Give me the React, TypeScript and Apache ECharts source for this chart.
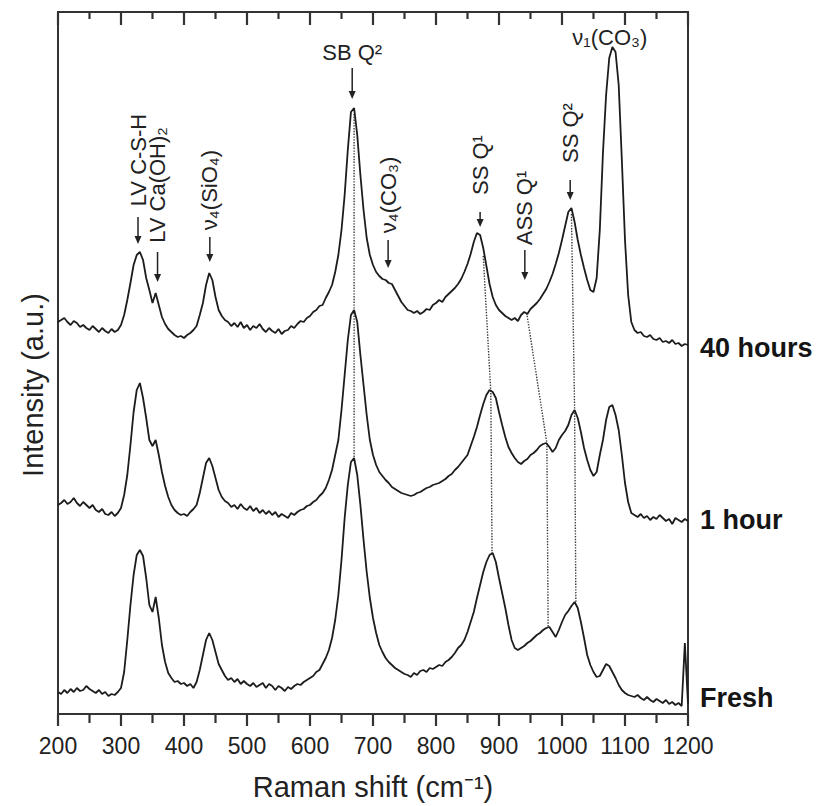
import React, { useEffect, useRef } from 'react';
import * as echarts from 'echarts';

const FONT = '"Liberation Sans", Arial, Helvetica, sans-serif';

// Raman shift sampling grid (cm-1), 200..1200 every 5
const wavenumbers: number[] = Array.from({ length: 201 }, (_, i) => 200 + i * 5);

// Axis tick positions (cm-1)
const majorTicks = [200, 300, 400, 500, 600, 700, 800, 900, 1000, 1100, 1200];
const minorTicks = [250, 350, 450, 550, 650, 750, 850, 950, 1050, 1150];

// Intensities (a.u., vertically offset traces)
const hours40: number[] = [
  392, 394, 396, 392, 389, 393, 391, 387, 389, 386, 384, 388, 385, 382, 386, 383, 381, 385, 382, 384,
  389, 399, 414, 431, 449, 459, 462, 454, 436, 424, 411, 421, 409, 397, 390, 385, 382, 379, 377, 378,
  376, 379, 381, 384, 388, 399, 411, 429, 441, 434, 417, 404, 398, 394, 392, 388, 391, 387, 392, 386,
  389, 384, 388, 386, 390, 385, 382, 386, 383, 381, 385, 380, 383, 384, 388, 386, 390, 393, 392, 396,
  398, 402, 404, 408, 409, 416, 422, 429, 442, 459, 484, 519, 564, 602, 606, 579, 539, 504, 476, 459,
  449, 442, 438, 435, 434, 431, 430, 424, 418, 412, 408, 404, 403, 401, 403, 400, 402, 405, 404, 409,
  411, 414, 412, 417, 420, 423, 426, 430, 435, 442, 450, 460, 472, 481, 479, 466, 448, 430, 417, 409,
  404, 401, 398, 396, 394, 396, 393, 399, 402, 400, 405, 408, 411, 415, 420, 425, 432, 440, 450, 461,
  474, 488, 502, 506, 492, 474, 459, 446, 434, 424, 422, 436, 484, 561, 619, 656, 667, 662, 629, 554,
  474, 419, 392, 384, 381, 382, 378, 377, 379, 375, 374, 376, 372, 373, 371, 374, 370, 371, 368, 370,
  369,
];

const hour1: number[] = [
  209, 211, 214, 210, 212, 216, 211, 208, 212, 209, 206, 209, 204, 202, 205, 200, 199, 202, 198, 201,
  206, 219, 239, 269, 302, 324, 331, 316, 296, 274, 268, 274, 259, 242, 228, 217, 209, 204, 201, 199,
  200, 198, 202, 205, 209, 221, 236, 251, 256, 248, 236, 224, 217, 213, 211, 207, 209, 205, 210, 206,
  204, 208, 203, 206, 201, 204, 200, 203, 199, 202, 197, 200, 198, 196, 201, 199, 202, 204, 205, 208,
  209, 212, 214, 218, 221, 226, 234, 244, 259, 274, 304, 339, 374, 399, 404, 392, 359, 329, 299, 274,
  259, 249, 242, 238, 234, 231, 227, 225, 223, 221, 220, 219, 218, 219, 221, 222, 224, 226, 227, 229,
  230, 231, 233, 235, 238, 240, 244, 247, 251, 255, 259, 268, 277, 287, 299, 310, 319, 324, 322, 316,
  302, 289, 277, 267, 261, 256, 252, 250, 253, 255, 259, 261, 264, 268, 270, 271, 267, 262, 266, 274,
  279, 283, 289, 299, 304, 296, 282, 266, 254, 244, 238, 242, 259, 274, 294, 307, 309, 299, 284, 259,
  231, 212, 201, 199, 197, 200, 196, 198, 194, 197, 195, 199, 196, 193, 195, 190, 196, 194, 192, 195,
  193,
];

const fresh: number[] = [
  22, 20, 24, 21, 25, 22, 26, 23, 24, 28, 25, 23, 21, 24, 20, 22, 18, 20, 19, 22,
  26, 42, 74, 109, 139, 159, 164, 158, 136, 109, 102, 117, 96, 69, 52, 41, 36, 32, 33, 30,
  31, 28, 30, 26, 32, 44, 59, 74, 81, 74, 62, 50, 44, 38, 34, 36, 32, 35, 30, 33,
  30, 28, 31, 27, 29, 31, 26, 30, 28, 24, 28, 26, 23, 27, 25, 28, 30, 29, 32, 34,
  36, 38, 42, 44, 50, 56, 64, 76, 94, 119, 154, 196, 229, 252, 256, 239, 209, 174, 142, 116,
  96, 81, 69, 62, 56, 52, 49, 46, 44, 42, 40, 39, 37, 41, 39, 43, 44, 42, 46, 45,
  47, 49, 48, 52, 54, 57, 61, 66, 69, 74, 82, 92, 102, 116, 129, 142, 152, 159, 161, 152,
  136, 121, 106, 89, 74, 66, 64, 66, 68, 71, 73, 76, 79, 81, 84, 86, 87, 82, 77, 84,
  92, 99, 103, 108, 112, 106, 92, 76, 59, 49, 42, 37, 38, 44, 50, 48, 42, 36, 29, 24,
  21, 19, 18, 17, 19, 16, 14, 17, 14, 12, 15, 13, 11, 14, 10, 12, 9, 11, 8, 71,
  10,
];

// Dotted peak-tracking guides [shift, intensity]
const guideSBQ2: number[][] = [[670, 600], [670, 256]];
const guideSSQ1: number[][] = [[875, 458], [887, 322], [889, 160]];
const guideASSQ1: number[][] = [[944, 401], [976, 271], [978, 87]];
const guideSSQ2: number[][] = [[1015, 500], [1020, 305], [1022, 112]];

// Peak annotations
const annLabels = ['LV C-S-H', 'LV Ca(OH)₂', 'ν₄(SiO₄)', 'SB Q²', 'ν₄(CO₃)', 'SS Q¹', 'ASS Q¹', 'SS Q²', 'ν₁(CO₃)'];
const annShift = [327, 358, 441, 667, 724, 870, 941, 1013, 1076];
const annTextY = [554, 529, 524, 662, 519, 549, 506, 581, 677];
const annVertical = [true, true, true, false, true, true, true, true, false];
const annArrowFrom: (number | null)[] = [497, 462, 477, 646, 474, 502, 464, 534, null];
const annArrowTo: (number | null)[] = [470, 432, 452, 615, 446, 487, 434, 514, null];

const seriesNames = ['40 hours', '1 hour', 'Fresh'];
const seriesValues = [hours40, hour1, fresh];
const endLabelOffsets = [3, -1, -6];

const Y_MIN = 0;
const Y_MAX = 702;

export default function App() {
  const ref = useRef<HTMLDivElement>(null);

  useEffect(() => {
    const chart = echarts.init(ref.current!, null, { renderer: 'svg' });
    const axisColor = '#333333';

    const spectrum = (idx: number) => ({
      type: 'line',
      name: seriesNames[idx],
      data: wavenumbers.map((w, i) => [w, seriesValues[idx][i]]),
      showSymbol: false,
      symbol: 'none',
      lineStyle: { color: '#1c1c1c', width: 1.8 },
    });

    const guide = (data: number[][]) => ({
      type: 'line',
      data,
      showSymbol: false,
      symbol: 'none',
      lineStyle: { color: '#3a3a3a', width: 1.4, type: 'dotted' },
    });

    // all tick marks: [position, bottom length (outward), top length (inward)]
    const ticks = [
      ...majorTicks.map((v) => [v, 12, 13]),
      ...minorTicks.map((v) => [v, 9, 7]),
    ].sort((a, b) => a[0] - b[0]);

    // Each axis' ticks as one continuous polyline that runs along the axis line
    const tickSeries = {
      type: 'custom',
      clip: false,
      data: [[200, Y_MIN]],
      renderItem: (_p: any, api: any) => {
        const bottom: number[][] = [];
        const top: number[][] = [];
        ticks.forEach(([v, lb, lt]) => {
          const pb = api.coord([v, Y_MIN]);
          const pt = api.coord([v, Y_MAX]);
          bottom.push([pb[0], pb[1]], [pb[0], pb[1] + lb], [pb[0], pb[1]]);
          top.push([pt[0], pt[1]], [pt[0], pt[1] + lt], [pt[0], pt[1]]);
        });
        const st = { stroke: axisColor, lineWidth: 2.2, fill: 'none', lineJoin: 'bevel', lineCap: 'butt' };
        return {
          type: 'group',
          children: [
            { type: 'polyline', shape: { points: bottom }, style: st },
            { type: 'polyline', shape: { points: top }, style: st },
          ],
        };
      },
    };

    // peak annotations: text + downward arrow
    const annSeries = {
      type: 'custom',
      clip: false,
      data: annShift.map((x, i) => [x, annTextY[i]]),
      renderItem: (params: any, api: any) => {
        const i = params.dataIndex;
        const p = api.coord([annShift[i], annTextY[i]]);
        const children: any[] = [
          {
            type: 'text',
            x: p[0],
            y: p[1],
            rotation: annVertical[i] ? Math.PI / 2 : 0,
            style: {
              text: annLabels[i],
              fill: '#222',
              fontFamily: FONT,
              fontSize: 22,
              align: 'center',
              verticalAlign: 'middle',
              textAlign: 'center',
              textVerticalAlign: 'middle',
            },
          },
        ];
        const from = annArrowFrom[i];
        const to = annArrowTo[i];
        if (from != null && to != null) {
          const a1 = api.coord([annShift[i], from]);
          const a2 = api.coord([annShift[i], to]);
          children.push({
            type: 'line',
            shape: { x1: a1[0], y1: a1[1], x2: a2[0], y2: a2[1] - 5 },
            style: { stroke: '#222', lineWidth: 1.5 },
          });
          children.push({
            type: 'polygon',
            shape: { points: [[a2[0] - 3.5, a2[1] - 8], [a2[0] + 3.5, a2[1] - 8], [a2[0], a2[1]]] },
            style: { fill: '#222' },
          });
        }
        return { type: 'group', children };
      },
    };

    // trace names at the right end of each spectrum
    const nameSeries = {
      type: 'custom',
      clip: false,
      data: seriesValues.map((vals) => [wavenumbers[wavenumbers.length - 1], vals[vals.length - 1]]),
      renderItem: (params: any, api: any) => {
        const i = params.dataIndex;
        const p = api.coord([api.value(0), api.value(1)]);
        return {
          type: 'text',
          x: p[0] + 12,
          y: p[1] + endLabelOffsets[i],
          style: {
            text: seriesNames[i],
            fill: '#151515',
            fontFamily: FONT,
            fontSize: 27,
            fontWeight: 'bold',
            align: 'left',
            verticalAlign: 'middle',
            textAlign: 'left',
            textVerticalAlign: 'middle',
          },
        };
      },
    };

    const option: any = {
      animation: false,
      grid: {
        left: 58,
        right: 139,
        top: 12,
        bottom: 92,
        show: true,
        borderColor: axisColor,
        borderWidth: 2,
        backgroundColor: 'transparent',
      },
      xAxis: {
        type: 'value',
        min: 200,
        max: 1200,
        interval: 100,
        splitLine: { show: false },
        axisTick: { show: false },
        axisLine: { show: true, onZero: false, lineStyle: { color: axisColor, width: 2 } },
        axisLabel: {
          fontFamily: FONT,
          fontSize: 23,
          color: '#222',
          margin: 20,
          formatter: (v: number) => String(v),
        },
        name: 'Raman shift (cm⁻¹)',
        nameLocation: 'middle',
        nameGap: 58,
        nameTextStyle: { fontFamily: FONT, fontSize: 29, color: '#222' },
      },
      yAxis: {
        type: 'value',
        min: Y_MIN,
        max: Y_MAX,
        splitLine: { show: false },
        axisTick: { show: false },
        axisLabel: { show: false },
        axisLine: { show: true, onZero: false, lineStyle: { color: axisColor, width: 2 } },
      },
      graphic: [
        {
          type: 'text',
          x: 33,
          y: 385,
          rotation: Math.PI / 2,
          style: {
            text: 'Intensity (a.u.)',
            fontFamily: FONT,
            fontSize: 29,
            fill: '#222',
            textAlign: 'center',
            textVerticalAlign: 'middle',
            align: 'center',
            verticalAlign: 'middle',
          },
        },
      ],
      series: [
        guide(guideSBQ2),
        guide(guideSSQ1),
        guide(guideASSQ1),
        guide(guideSSQ2),
        spectrum(0),
        spectrum(1),
        spectrum(2),
        tickSeries,
        annSeries,
        nameSeries,
      ],
    };
    chart.setOption(option);

    return () => chart.dispose();
  }, []);

  return (
    <div
      ref={ref}
      style={{ position: 'fixed', left: 0, top: 0, width: 827, height: 806, background: '#fff' }}
    />
  );
}
